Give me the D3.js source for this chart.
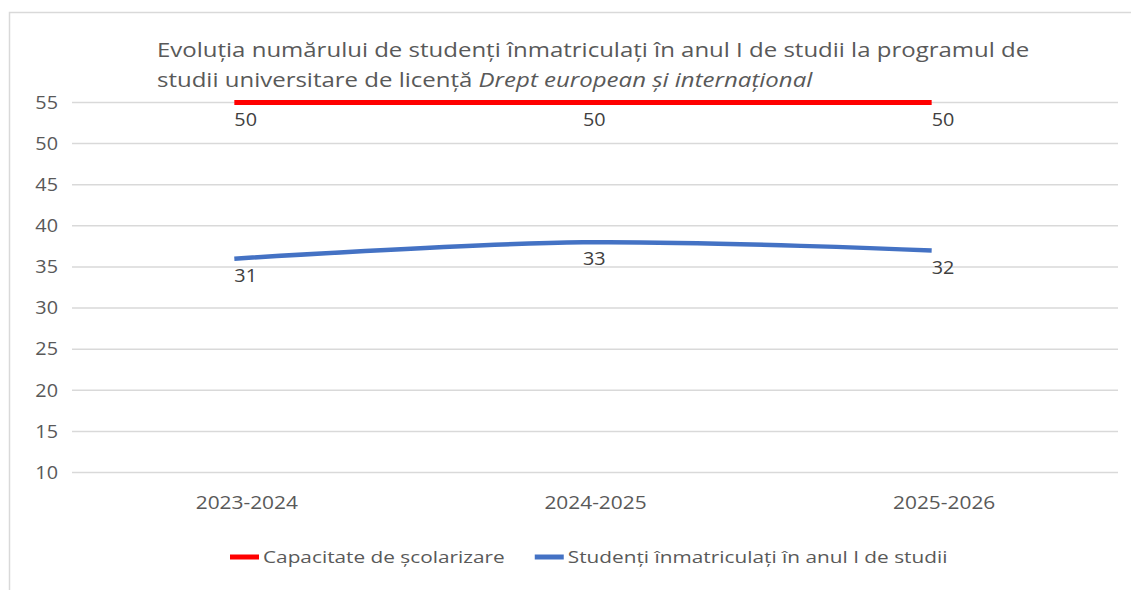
<!DOCTYPE html>
<html>
<head>
<meta charset="utf-8">
<title>Evoluția numărului de studenți</title>
<script src="https://cdn.jsdelivr.net/npm/d3@7"></script>
<style>
  body { margin: 0; background: #fff; }
  svg { display: block; font-family: "Open Sans", sans-serif; }
</style>
</head>
<body>
<svg id="chart" width="1131" height="590"></svg>
<script>
// data
const years = ["2023-2024", "2024-2025", "2025-2026"];
const capacity = [50, 50, 50];
const enrolled = [31, 33, 32];
const yTicks = [5, 10, 15, 20, 25, 30, 35, 40, 45, 50];
const yTickLabels = ["10", "15", "20", "25", "30", "35", "40", "45", "50", "55"];
const seriesNames = ["Capacitate de școlarizare", "Studenți înmatriculați în anul I de studii"];
const seriesColors = ["#ff0000", "#4472c4"];

const svg = d3.select("#chart");
const plotLeft = 72, plotRight = 1118, plotTop = 102.5, plotBottom = 472.5;

// the source picture is stretched sideways, so text gets a horizontal scale
function stretched(parent, x, y, sx) {
  return parent.append("g")
    .attr("transform", `translate(${x},${y}) scale(${sx},1)`)
    .append("text");
}

// chart frame (only top and left edges are in view)
svg.append("path")
  .attr("d", "M9.5,590 V12.5 H1131")
  .attr("fill", "none")
  .attr("stroke", "#d9d9d9")
  .attr("stroke-width", 1.5);

const x = d3.scalePoint().domain(years).range([plotLeft, plotRight]).padding(0.5);
const y = d3.scaleLinear().domain([5, 50]).range([plotBottom, plotTop]);
const shift = -12; // lines sit a little left of the category centres

// gridlines
svg.append("g").selectAll("line")
  .data(yTicks)
  .join("line")
  .attr("x1", plotLeft).attr("x2", plotRight)
  .attr("y1", d => y(d)).attr("y2", d => y(d))
  .attr("stroke", "#d9d9d9")
  .attr("stroke-width", 1.5);

// y axis labels
const yAxis = d3.axisLeft(y)
  .tickValues(yTicks)
  .tickFormat((d, i) => yTickLabels[i])
  .tickSize(0)
  .tickPadding(0);
svg.append("g")
  .attr("transform", `translate(58,0)`)
  .call(yAxis)
  .call(g => g.select(".domain").remove())
  .call(g => g.selectAll("text")
    .attr("font-size", 18)
    .attr("font-family", "Open Sans")
    .attr("fill", "#595959")
    .attr("transform", "scale(1.1,1)"));

// x axis labels
const xAxis = d3.axisBottom(x).tickSize(0).tickPadding(0);
svg.append("g")
  .attr("transform", `translate(0,496)`)
  .call(xAxis)
  .call(g => g.select(".domain").remove())
  .call(g => g.selectAll("text")
    .attr("font-size", 18)
    .attr("font-family", "Open Sans")
    .attr("fill", "#595959")
    .attr("transform", "scale(1.16,1)"));

// lines
const line = d3.line()
  .x((d, i) => x(years[i]) + shift)
  .y(d => y(d))
  .curve(d3.curveCardinal.tension(0));

[capacity, enrolled].forEach((vals, k) => {
  svg.append("path")
    .datum(vals)
    .attr("d", line)
    .attr("fill", "none")
    .attr("stroke", seriesColors[k])
    .attr("stroke-width", k === 0 ? 5 : 4.5)
    .attr("stroke-linecap", "butt");

  vals.forEach((v, i) => {
    stretched(svg, x(years[i]) + shift, y(v) + 23, 1.1)
      .attr("font-size", 18)
      .attr("fill", "#404040")
      .text(v);
  });
});

// title
const t1 = stretched(svg, 157, 57, 1.2)
  .attr("font-size", 20)
  .attr("fill", "#595959")
  .text("Evoluția numărului de studenți înmatriculați în anul I de studii la programul de");
const t2 = stretched(svg, 157, 87, 1.2)
  .attr("font-size", 20)
  .attr("fill", "#595959");
t2.append("tspan").text("studii universitare de licență ");
t2.append("tspan").attr("font-style", "italic").text("Drept european și internațional");

// legend
const legendSx = 1.3;
let lx = 230;
seriesNames.forEach((name, i) => {
  svg.append("line")
    .attr("x1", lx).attr("x2", lx + 29)
    .attr("y1", 557).attr("y2", 557)
    .attr("stroke", seriesColors[i])
    .attr("stroke-width", 5);
  const t = stretched(svg, lx + 33, 557, legendSx)
    .attr("dy", "0.35em")
    .attr("font-size", 16)
    .attr("fill", "#595959")
    .text(name);
  lx += 33 + t.node().getComputedTextLength() * legendSx + 30;
});
</script>
</body>
</html>
